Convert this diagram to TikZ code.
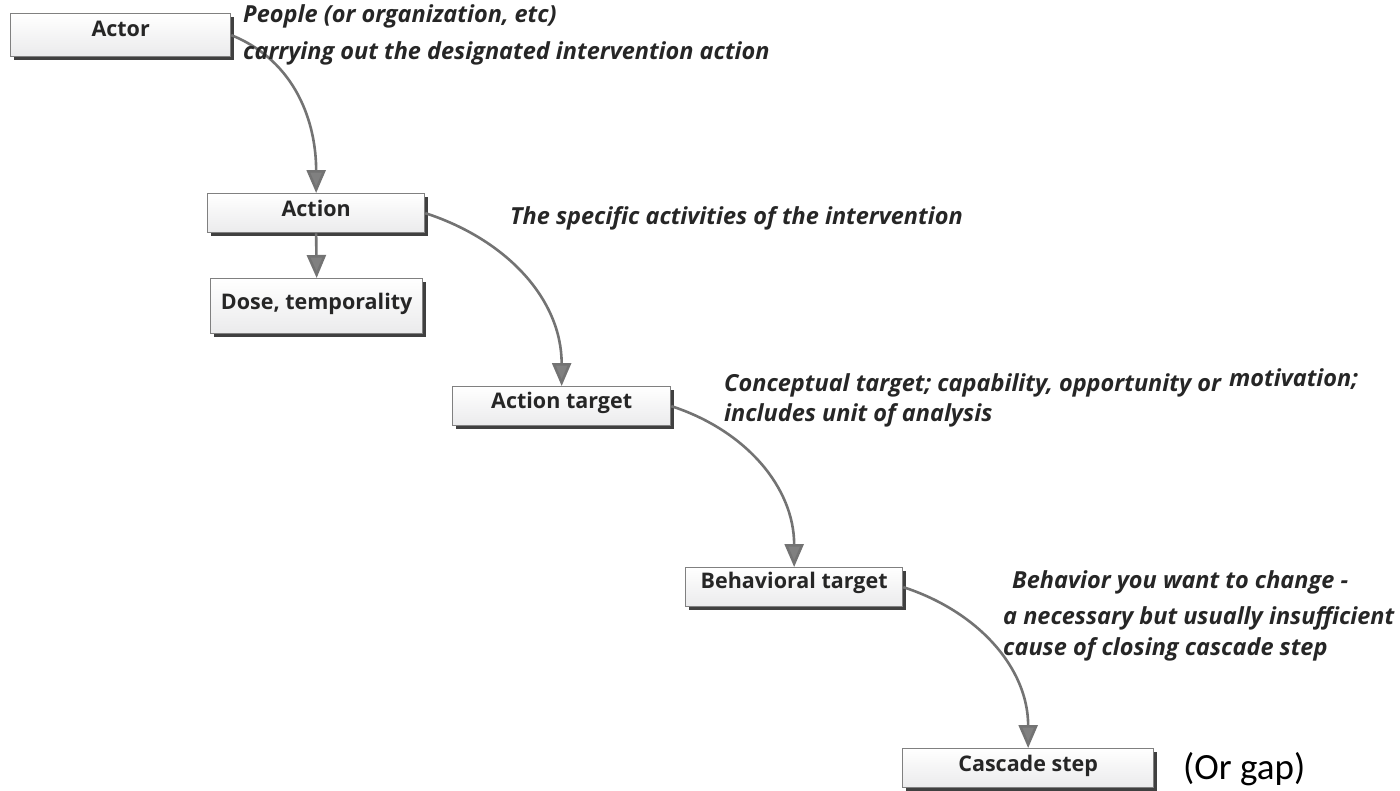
\documentclass[tikz,border=0pt]{standalone}
\usepackage{fontspec}
\setmainfont{Open Sans}
\newfontfamily\calibrilike{Carlito}
\usetikzlibrary{arrows.meta,shadows}

\begin{document}
\begin{tikzpicture}[x=1pt,y=-1pt,
  stagebox/.style={draw=black!50, line width=1.3pt, rectangle,
    top color=white, bottom color=blue!6!black!8,
    drop shadow={shadow xshift=3pt, shadow yshift=-3.5pt, fill=black!75, opacity=1},
    font=\fontsize{21.5}{24}\selectfont\bfseries, text=black!85,
    anchor=north west, inner xsep=0pt, inner ysep=0pt, align=center},
  note/.style={font=\fontsize{23.5}{26}\selectfont\bfseries\itshape, text=black!85,
    anchor=base west, inner sep=0pt},
  flow/.style={draw=black!55, line width=2.6pt,
    -{Triangle[length=23pt,width=19pt,fill=black!50]}}
]
\useasboundingbox (0,0) rectangle (1400,790);

% stage boxes along the cascade
\node[stagebox, minimum width=220pt, minimum height=43pt, text height=23pt, text depth=20pt] (actor) at (10,13) {Actor};
\node[stagebox, minimum width=217pt, minimum height=39pt, text height=23pt, text depth=16pt] (action) at (207,193) {Action};
\node[stagebox, minimum width=212pt, minimum height=55pt, text height=31pt, text depth=24pt] (dose) at (210,278) {Dose, temporality};
\node[stagebox, minimum width=218pt, minimum height=39pt, text height=22pt, text depth=17pt] (atarget) at (452,386) {Action target};
\node[stagebox, minimum width=217pt, minimum height=39pt, text height=21pt, text depth=18pt] (btarget) at (685,567) {Behavioral target};
\node[stagebox, minimum width=251pt, minimum height=39pt, text height=23pt, text depth=16pt] (cascade) at (902,748) {Cascade step};

% connectors
\draw[flow] (actor.east) to[out=-22,in=90] (action.north);
\draw[flow] (action.south) -- (dose.north);
\draw[flow] (action.east) to[out=-18,in=90] (atarget.north);
\draw[flow] (atarget.east) to[out=-18,in=90] (btarget.north);
\draw[flow] (btarget.east) to[out=-18,in=90] (cascade.north);

% descriptions
\node[note] (n1a) at (243,22) {People (or organization, etc)};
\node[note] (n1b) at (243,59) {carrying out the designated intervention action};
\node[note] (n2) at (510,224) {The specific activities of the intervention};
\node[note] (n3a) at (724,391) {Conceptual target; capability, opportunity or};
\node[note] (n3m) at (1229,386) {motivation;};
\node[note] (n3b) at (724,421) {includes unit of analysis};
\node[note] (n4a) at (1012,588) {Behavior you want to change -};
\node[note] (n4b) at (1003,624) {a necessary but usually insufficient};
\node[note] (n4c) at (1003,655) {cause of closing cascade step};
\node[anchor=base west, inner sep=0pt, font=\calibrilike\fontsize{37}{40}\selectfont] (gap) at (1183,779) {(Or gap)};
\end{tikzpicture}
\end{document}
